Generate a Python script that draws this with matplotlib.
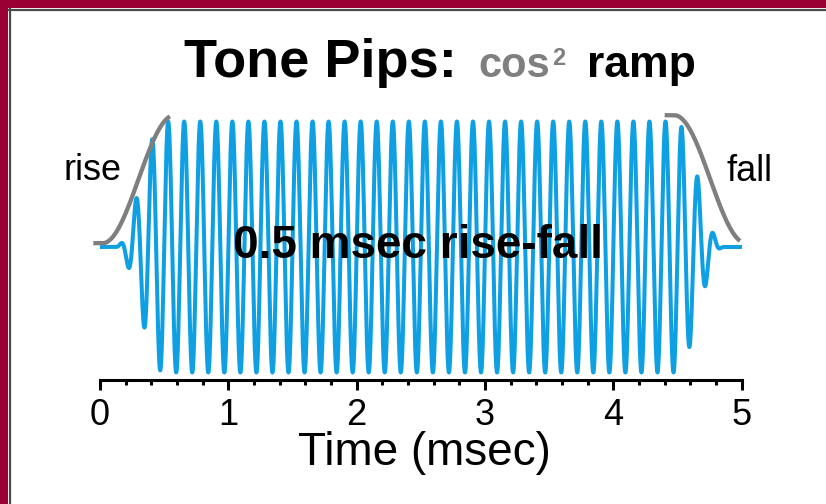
import numpy as np
import matplotlib
matplotlib.use('Agg')
import matplotlib.pyplot as plt
from matplotlib.patches import Rectangle
from matplotlib.lines import Line2D
from matplotlib.ticker import MultipleLocator

plt.rcParams['font.family'] = ['Liberation Sans', 'DejaVu Sans']

# ---- chart values (msec / relative amplitude) ----
tone_freq_khz = 8.0
pip_span = [0.013, 4.987]          # drawn span of the tone pip
pip_rise = [0.12, 0.50]            # cos^2 onset of the pip
pip_fall = [4.48, 4.86]            # cos^2 offset of the pip
guide_rise = [0.02, 0.58]          # grey cos^2 guide, rise
guide_fall = [4.475, 5.035]        # grey cos^2 guide, fall
guide_rise_span = [-0.052, 0.545]
guide_fall_span = [4.40, 4.987]
guide_offset = 0.03
guide_gain = 1.02
xticks = [0, 1, 2, 3, 4, 5]
xtick_labels = ['0', '1', '2', '3', '4', '5']

BLUE = '#0FA0E4'
GREY = '#7F7F7F'
MAROON = '#9A0034'


def cos2_env(t, rise, fall):
    env = np.ones_like(t)
    r = (t - rise[0]) / (rise[1] - rise[0])
    f = (t - fall[0]) / (fall[1] - fall[0])
    env = np.where(t < rise[0], 0.0, env)
    m = (t >= rise[0]) & (t < rise[1])
    env = np.where(m, np.sin(np.pi / 2 * r) ** 2, env)
    m = (t > fall[0]) & (t <= fall[1])
    env = np.where(m, np.cos(np.pi / 2 * f) ** 2, env)
    env = np.where(t > fall[1], 0.0, env)
    return env


fig = plt.figure(figsize=(8.26, 5.04), dpi=100)
ax = fig.add_axes([100 / 826, (504 - 380) / 504, 641.7 / 826, 283.6 / 504])

t = np.linspace(pip_span[0], pip_span[1], 20000)
tone = cos2_env(t, pip_rise, pip_fall) * np.sin(2 * np.pi * tone_freq_khz * t)
ax.plot(t, tone, color=BLUE, lw=2.9, solid_joinstyle='round', zorder=2)

tr = np.linspace(guide_rise_span[0], guide_rise_span[1], 400)
gr = guide_offset + guide_gain * cos2_env(tr, guide_rise, [10, 11])
ax.plot(tr, gr, color=GREY, lw=3.1, solid_capstyle='butt', clip_on=False, zorder=3)

tf = np.linspace(guide_fall_span[0], guide_fall_span[1], 400)
gf = guide_offset + guide_gain * cos2_env(tf, [-11, -10], guide_fall)
ax.plot(tf, gf, color=GREY, lw=3.1, solid_capstyle='butt', clip_on=False, zorder=3)

ax.set_xlim(0, 5)
ax.set_ylim(-1.06, 1.2)
for s in ['top', 'right', 'left']:
    ax.spines[s].set_visible(False)
ax.spines['bottom'].set_linewidth(2.2)
ax.spines['bottom'].set_bounds(0, 5)
ax.set_yticks([])
ax.set_xticks(xticks)
ax.set_xticklabels(xtick_labels)
ax.xaxis.set_minor_locator(MultipleLocator(0.2))
ax.tick_params(axis='x', which='major', length=7.5, width=2.2, pad=5.5,
               labelsize=26, direction='out')
ax.tick_params(axis='x', which='minor', length=3.5, width=2.2, direction='out')

ax.set_xlabel('Time (msec)', fontsize=33)
ax.xaxis.label.set_va('baseline')
ax.xaxis.set_label_coords((424 - 100) / 641.7, (380 - 465) / 283.6)

ax.text(2.474, -0.088, '0.5 msec rise-fall', fontsize=33, fontweight='bold',
        ha='center', va='baseline', color='black', zorder=5)
ax.text(0.169, 0.534, 'rise', fontsize=26, ha='right', va='baseline')
ax.text(4.883, 0.528, 'fall', fontsize=26, ha='left', va='baseline')

# title pieces
fig.text(184 / 826, (504 - 77) / 504, 'Tone Pips:', fontsize=39, fontweight='bold',
         ha='left', va='baseline')
fig.text(478.6 / 826, (504 - 77) / 504, 'cos', fontsize=30, fontweight='bold',
         color=GREY, ha='left', va='baseline')
fig.text(551.8 / 826, (504 - 64.6) / 504, '2', fontsize=17, fontweight='bold',
         color=GREY, ha='left', va='baseline')
fig.text(587.5 / 826, (504 - 77) / 504, 'ramp', fontsize=32, fontweight='bold',
         ha='left', va='baseline')

# frame: maroon top/left band with a thin dark inner line
fig.add_artist(Rectangle((0, 1 - 8 / 504), 1, 8 / 504, transform=fig.transFigure,
                         facecolor=MAROON, edgecolor='none'))
fig.add_artist(Rectangle((0, 0), 8 / 826, 1, transform=fig.transFigure,
                         facecolor=MAROON, edgecolor='none'))
fig.add_artist(Line2D([10 / 826, 10 / 826], [0, 1 - 9 / 504], transform=fig.transFigure,
                      color='#4a4a4a', lw=1.6))
fig.add_artist(Line2D([9 / 826, 1], [1 - 10 / 504, 1 - 10 / 504], transform=fig.transFigure,
                      color='#4a4a4a', lw=1.6))

fig.savefig('out.png', dpi=100)
